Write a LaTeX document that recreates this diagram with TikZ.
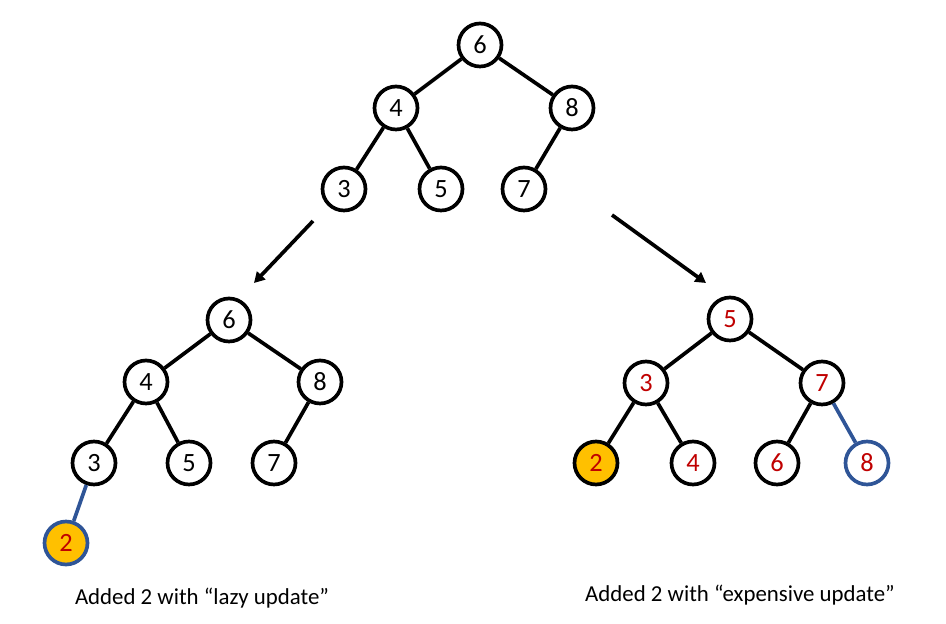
\documentclass[tikz,border=0pt]{standalone}
\usepackage{fontspec}
\setmainfont{Carlito}
\usepackage{xcolor}
\usetikzlibrary{arrows.meta, positioning}
\definecolor{hlorange}{HTML}{FFC000}
\definecolor{hlred}{HTML}{C00000}
\definecolor{hlblue}{HTML}{2F5597}

\begin{document}
\begin{tikzpicture}[x=0.02cm, y=-0.02cm,
  key/.style={circle, draw, line width=2.1pt, minimum size=0.86cm, inner sep=0pt, font=\fontsize{15}{18}\selectfont, fill=white},
  redkey/.style={key, text=hlred},
  newkey/.style={redkey, fill=hlorange},
  edge/.style={line width=2.1pt},
  moved/.style={line width=2.1pt, draw=hlblue},
  step arrow/.style={line width=2.1pt, -{Triangle[length=6pt,width=6.5pt]}},
  caption/.style={font=\fontsize{13}{16}\selectfont}
]
\useasboundingbox (0,0) rectangle (946,624);

% Initial
\node[key] (t6) at (480,45) {6};
\node[key] (t4) at (396,108) {4};
\node[key] (t8) at (572,108) {8};
\node[key] (t3) at (344,189) {3};
\node[key] (t5) at (441,189) {5};
\node[key] (t7) at (524,189) {7};
\draw[edge] (t6) -- (t4);
\draw[edge] (t6) -- (t8);
\draw[edge] (t4) -- (t3);
\draw[edge] (t4) -- (t5);
\draw[edge] (t8) -- (t7);

% Arrows
\coordinate (la0) at (313,221);
\coordinate (la1) at (254,283);
\coordinate (ra0) at (612,215);
\coordinate (ra1) at (706,283);
\draw[step arrow] (la0) -- (la1);
\draw[step arrow] (ra0) -- (ra1);

% Lazy update
\node[key] (l6) at (229,320) {6};
\node[key] (l4) at (146,382) {4};
\node[key] (l8) at (320,382) {8};
\node[key] (l3) at (94,463) {3};
\node[key] (l5) at (189,463) {5};
\node[key] (l7) at (274,463) {7};
\node[newkey, draw=hlblue] (l2) at (66,543) {2};
\draw[edge] (l6) -- (l4);
\draw[edge] (l6) -- (l8);
\draw[edge] (l4) -- (l3);
\draw[edge] (l4) -- (l5);
\draw[edge] (l8) -- (l7);
\draw[moved] (l3) -- (l2);
\node[caption] (lcap) at (202,598) {Added 2 with “lazy update”};

% Expensive update
\node[redkey] (r5) at (730,319) {5};
\node[redkey] (r3) at (646,383) {3};
\node[redkey] (r7) at (822,383) {7};
\node[newkey] (r2) at (596,463) {2};
\node[redkey] (r4) at (693,463) {4};
\node[redkey] (r6) at (777,463) {6};
\node[redkey, draw=hlblue] (r8) at (867,463) {8};
\draw[edge] (r5) -- (r3);
\draw[edge] (r5) -- (r7);
\draw[edge] (r3) -- (r2);
\draw[edge] (r3) -- (r4);
\draw[edge] (r7) -- (r6);
\draw[moved] (r7) -- (r8);
\node[caption] (rcap) at (740,595) {Added 2 with “expensive update”};
\end{tikzpicture}
\end{document}
